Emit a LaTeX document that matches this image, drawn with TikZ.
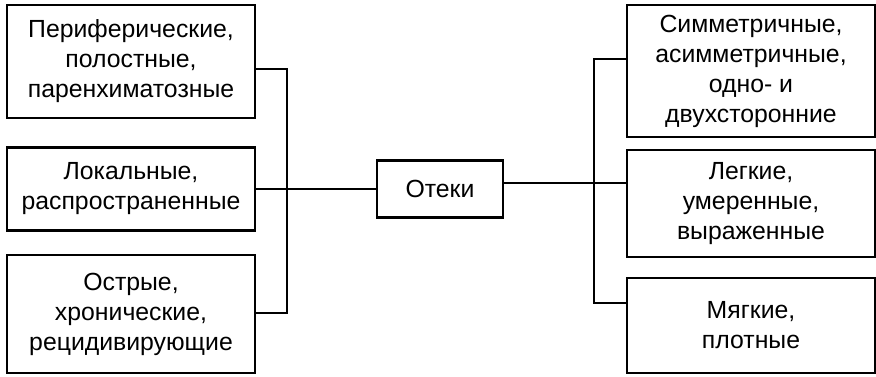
\documentclass[tikz,border=0pt]{standalone}
\usepackage{fontspec}
\setmainfont{Liberation Sans}
\begin{document}
\begin{tikzpicture}[x=0.75pt,y=-0.75pt,box/.style={shape=rectangle,draw=black,line width=1.6pt,align=center,inner sep=0pt,minimum width=248*0.75pt,font=\fontsize{18.6}{22.5}\selectfont},link/.style={line width=1.3pt,line cap=rect}]
\useasboundingbox (0,0) rectangle (876,376);
\def\lx{131};
\def\rx{751};
\def\lbus{287};
\def\rbus{594};

\node[box,minimum height=113*0.75pt] (L1) at (\lx,61.5) {Периферические,\\полостные,\\паренхиматозные};
\node[box,minimum height=83*0.75pt] (L2) at (\lx,189) {Локальные,\\распространенные};
\node[box,minimum height=118*0.75pt] (L3) at (\lx,314) {Острые,\\хронические,\\рецидивирующие};

\node[box,minimum width=126*0.75pt,minimum height=57*0.75pt] (O) at (440,189) {Отеки};

\node[box,minimum height=132*0.75pt] (R1) at (\rx,71) {Симметричные,\\асимметричные,\\одно- и\\двухсторонние};
\node[box,minimum height=107*0.75pt] (R2) at (\rx,203.5) {Легкие,\\умеренные,\\выраженные};
\node[box,minimum height=95*0.75pt] (R3) at (\rx,325.5) {Мягкие,\\плотные};

\coordinate (lb1) at (\lbus,69);
\coordinate (lb3) at (\lbus,313);
\coordinate (rb1) at (\rbus,59);
\coordinate (rb2) at (\rbus,183);
\coordinate (rb3) at (\rbus,303);

\draw[link] (L1.east |- lb1) -- (lb1) -- (lb3) -- (L3.east |- lb3);
\draw[link] (L2.east) -- (O.west);
\draw[link] (R1.west |- rb1) -- (rb1) -- (rb3) -- (R3.west |- rb3);
\draw[link] (O.east |- rb2) -- (R2.west |- rb2);
\end{tikzpicture}
\end{document}
